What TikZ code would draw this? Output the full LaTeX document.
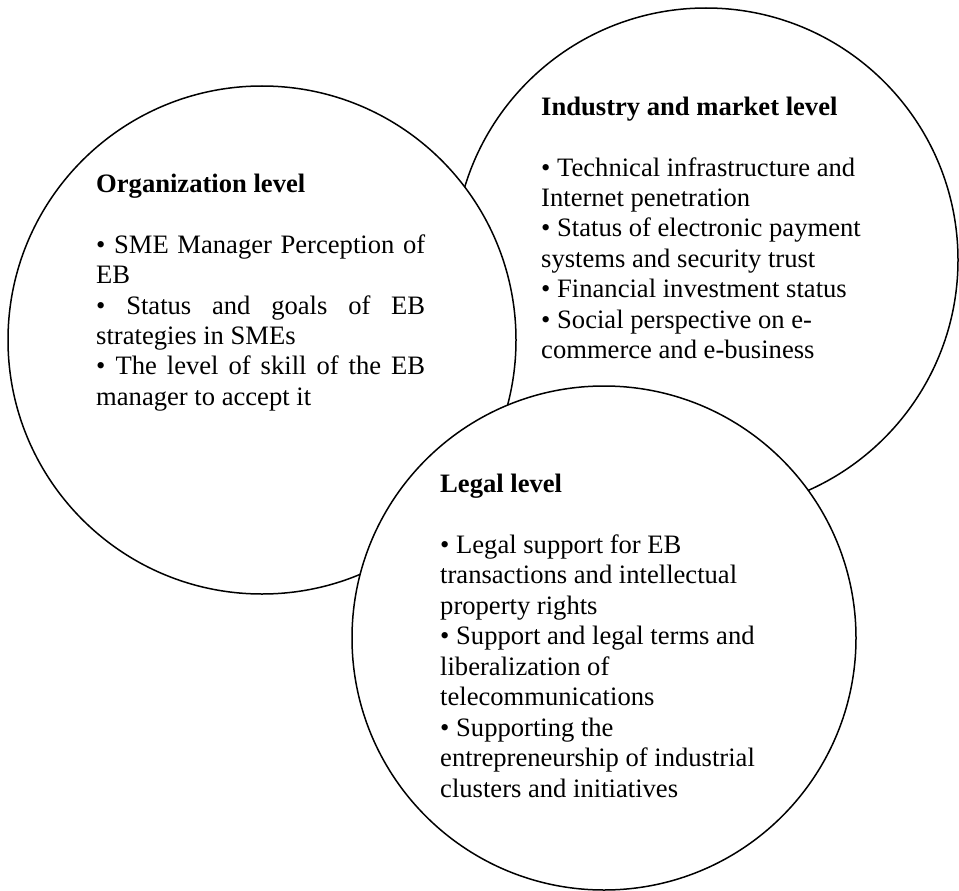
\documentclass[tikz,border=0pt]{standalone}
\usepackage{fontspec}
\setmainfont{Liberation Serif}
\begin{document}
\begin{tikzpicture}[x=1pt,y=-1pt,
  levelcircle/.style={circle, draw=black, line width=1.5pt, fill=white,
    inner sep=0pt, minimum size=#1},
  leveltext/.style={anchor=base west, inner sep=0pt,
    font=\fontsize{26.6pt}{30.5pt}\selectfont},
]
\useasboundingbox (0,0) rectangle (959,891);

% the three levels, back to front
\node[levelcircle=504pt] (industry) at (706,260) {};
\node[levelcircle=508pt] (organization) at (262,340) {};
\node[levelcircle=504pt] (legal) at (604,638) {};

% organization level (justified)
\node[leveltext] (orgtext) at (96,192) {\parbox[t]{329pt}{\hyphenpenalty=10000
  \textbf{Organization level}\par\vspace{\baselineskip}
  • SME Manager Perception of\linebreak EB\par
  • Status and goals of EB\linebreak strategies in SMEs\par
  • The level of skill of the EB\linebreak manager to accept it}};

% industry and market level
\node[leveltext] (industrytext) at (541,115) {\parbox[t]{400pt}{
  \textbf{Industry and market level}\par\vspace{\baselineskip}
  • Technical infrastructure and\\
  Internet penetration\\
  • Status of electronic payment\\
  systems and security trust\\
  • Financial investment status\\
  • Social perspective on e-\\
  commerce and e-business}};

% legal level
\node[leveltext] (legaltext) at (440,492) {\parbox[t]{400pt}{
  \textbf{Legal level}\par\vspace{\baselineskip}
  • Legal support for EB\\
  transactions and intellectual\\
  property rights\\
  • Support and legal terms and\\
  liberalization of\\
  telecommunications\\
  • Supporting the\\
  entrepreneurship of industrial\\
  clusters and initiatives}};
\end{tikzpicture}
\end{document}
